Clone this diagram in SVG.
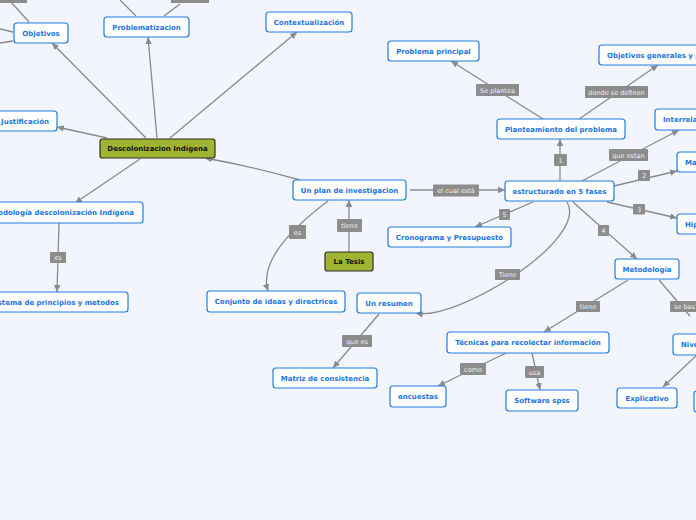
<svg xmlns="http://www.w3.org/2000/svg" width="696" height="520" viewBox="0 0 696 520">
<style>
.n rect{fill:#ffffff;stroke:#1f7ce0;stroke-width:1.2}
.n text{font-family:"DejaVu Sans",Verdana,sans-serif;font-size:7px;font-weight:bold;fill:#1a73de;text-anchor:middle}
.g rect{fill:#a1b431;stroke:#2d2d2d;stroke-width:1.2}
.g text{font-family:"DejaVu Sans",Verdana,sans-serif;font-size:7px;font-weight:bold;fill:#111;text-anchor:middle}
.e{fill:none;stroke:#8a8a8a;stroke-width:1.3}
.a{marker-end:url(#ah)}
.l rect{fill:#8c8c8c}
.l text{font-family:"DejaVu Sans",Verdana,sans-serif;font-size:6.5px;fill:#f0f0f0;text-anchor:middle}
</style>
<defs>
<marker id="ah" markerWidth="8" markerHeight="8" refX="7" refY="4" orient="auto" markerUnits="userSpaceOnUse">
<path d="M0,0.8 L7,4 L0,7.2 Z" fill="#8a8a8a"/>
</marker>
</defs>
<rect x="0" y="0" width="696" height="520" fill="#f2f5fd"/>

<g id="connectors">
<path class="e" d="M29,22 L10,1"/>
<path class="e" d="M13,32 L0,29"/>
<path class="e" d="M13,41 L0,43"/>
<path class="e" d="M136,16 L120,0"/>
<path class="e" d="M164,16 L180,4"/>
<path class="e a" d="M146,138 L52,43"/>
<path class="e a" d="M157,138 L148,37"/>
<path class="e a" d="M170,138 L297,32"/>
<path class="e a" d="M107,138 L57,127"/>
<path class="e a" d="M140,159 L75,203"/>
<path class="e a" d="M300,180 Q250,166 205,158"/>
<path class="e a" d="M59,223 L57,292"/>
<path class="e a" d="M349,252 L349,200"/>
<path class="e a" d="M328,201 C300,222 258,258 268,291"/>
<path class="e a" d="M410,190 L505,190"/>
<path class="e a" d="M560,181 L560,139"/>
<path class="e a" d="M543,119 L451,61"/>
<path class="e a" d="M579,119 L658,65"/>
<path class="e a" d="M582,181 L679,130"/>
<path class="e a" d="M614,186 L677,171"/>
<path class="e a" d="M607,202 L677,218"/>
<path class="e a" d="M573,202 L637,259"/>
<path class="e a" d="M533,202 L475,227"/>
<path class="e a" d="M567,202 C590,240 455,322 416,313"/>
<path class="e a" d="M379,314 L333,368"/>
<path class="e a" d="M628,280 L544,332"/>
<path class="e" d="M659,280 L690,316"/>
<path class="e a" d="M700,352 L663,387"/>
<path class="e a" d="M506,353 L438,386"/>
<path class="e a" d="M532,353 L540,390"/>
</g>

<g id="edge-labels">
<g class="l"><rect x="-10" y="-10" width="37" height="13"/></g>
<g class="l"><rect x="171" y="-10" width="38" height="13"/></g>
<g class="l"><rect x="50" y="252" width="16" height="11" rx="1"/><text x="58" y="260">es</text></g>
<g class="l"><rect x="337" y="219" width="25" height="13" rx="1"/><text x="349.5" y="228">tiene</text></g>
<g class="l"><rect x="289" y="225" width="17" height="14" rx="1"/><text x="297.5" y="234.5">es</text></g>
<g class="l"><rect x="433" y="184.5" width="46" height="12" rx="1"/><text x="456" y="193">el cual está</text></g>
<g class="l"><rect x="554" y="154" width="13" height="12" rx="1"/><text x="560.5" y="162.5">1</text></g>
<g class="l"><rect x="476" y="84" width="43" height="12" rx="1"/><text x="497.5" y="92.5">Se plantea</text></g>
<g class="l"><rect x="585" y="86" width="63" height="12" rx="1"/><text x="616.5" y="94.5">donde se definen</text></g>
<g class="l"><rect x="609" y="149" width="39" height="12" rx="1"/><text x="628.5" y="157.5">que estan</text></g>
<g class="l"><rect x="638" y="170" width="12" height="11" rx="1"/><text x="644" y="178">2</text></g>
<g class="l"><rect x="633" y="204" width="12" height="10.5" rx="1"/><text x="639" y="211.5">3</text></g>
<g class="l"><rect x="598" y="225" width="11" height="11" rx="1"/><text x="603.5" y="233">4</text></g>
<g class="l"><rect x="499" y="209" width="11" height="11" rx="1"/><text x="504.5" y="217">5</text></g>
<g class="l"><rect x="495" y="269" width="25" height="11" rx="1"/><text x="507.5" y="277">Tiene</text></g>
<g class="l"><rect x="342" y="335" width="30" height="12" rx="1"/><text x="357" y="343.5">que es</text></g>
<g class="l"><rect x="576" y="301" width="24" height="11" rx="1"/><text x="588" y="309">tiene</text></g>
<g class="l"><rect x="670" y="301" width="40" height="11" rx="1"/><text x="674" y="309" style="text-anchor:start">se bas</text></g>
<g class="l"><rect x="460" y="363" width="26" height="12" rx="1"/><text x="473" y="371.5">como</text></g>
<g class="l"><rect x="525" y="366" width="19" height="12" rx="1"/><text x="534.5" y="374.5">usa</text></g>
</g>

<g id="n-objetivos" class="n"><rect x="14" y="23" width="54" height="20" rx="3"/><text x="41" y="35.5">Objetivos</text></g>
<g id="n-problematizacion" class="n"><rect x="104" y="17" width="85" height="20" rx="3"/><text x="146.5" y="29.5">Problematizacion</text></g>
<g id="n-contextualizacion" class="n"><rect x="266" y="12" width="86" height="20" rx="3"/><text x="309" y="24.5">Contextualización</text></g>
<g id="n-problema-principal" class="n"><rect x="388" y="41" width="91" height="20" rx="3"/><text x="433.5" y="53.5">Problema principal</text></g>
<g id="n-objetivos-generales" class="n"><rect x="599" y="45" width="120" height="20" rx="3"/><text x="607" y="57.5" style="text-anchor:start">Objetivos generales y p</text></g>
<g id="n-planteamiento" class="n"><rect x="497" y="119" width="128" height="20" rx="3"/><text x="561" y="131.5">Planteamiento del problema</text></g>
<g id="n-interrela" class="n"><rect x="655" y="109" width="60" height="21" rx="3"/><text x="663" y="122" style="text-anchor:start">Interrela</text></g>
<g id="n-ma" class="n"><rect x="677" y="152" width="40" height="20" rx="3"/><text x="685" y="164.5" style="text-anchor:start">Ma</text></g>
<g id="n-hip" class="n"><rect x="677" y="214" width="40" height="20" rx="3"/><text x="685" y="226.5" style="text-anchor:start">Hip</text></g>
<g id="n-estructurado" class="n"><rect x="505" y="181" width="109" height="20" rx="3"/><text x="559.5" y="193.5">estructurado en 5 fases</text></g>
<g id="n-plan" class="n"><rect x="293" y="180" width="113" height="20" rx="3"/><text x="349.5" y="192.5">Un plan de investigacion</text></g>
<g id="n-descolonizacion" class="g"><rect x="100" y="139" width="115" height="19" rx="2.5"/><text x="157.5" y="151">Descolonizacion Indígena</text></g>
<g id="n-justificacion" class="n"><rect x="-10" y="111" width="67" height="20" rx="3"/><text x="49" y="123.5" style="text-anchor:end">Justificación</text></g>
<g id="n-metodologia-desc" class="n"><rect x="-20" y="202" width="163" height="21" rx="3"/><text x="134" y="215" style="text-anchor:end">Metodología descolonización Indígena</text></g>
<g id="n-sistema" class="n"><rect x="-20" y="292" width="148" height="20" rx="3"/><text x="119" y="304.5" style="text-anchor:end">Sistema de principios y metodos</text></g>
<g id="n-conjunto" class="n"><rect x="207" y="291" width="138" height="21" rx="3"/><text x="276" y="304">Conjunto de ideas y directrices</text></g>
<g id="n-tesis" class="g"><rect x="325" y="252" width="48" height="19" rx="2.5"/><text x="349" y="264">La Tesis</text></g>
<g id="n-cronograma" class="n"><rect x="388" y="227" width="123" height="20" rx="3"/><text x="449.5" y="239.5">Cronograma y Presupuesto</text></g>
<g id="n-resumen" class="n"><rect x="357" y="293" width="64" height="20" rx="3"/><text x="389" y="305.5">Un resumen</text></g>
<g id="n-metodologia" class="n"><rect x="615" y="259" width="64" height="20" rx="3"/><text x="647" y="271.5">Metodología</text></g>
<g id="n-matriz" class="n"><rect x="273" y="368" width="104" height="20" rx="3"/><text x="325" y="380.5">Matriz de consistencia</text></g>
<g id="n-tecnicas" class="n"><rect x="447" y="332" width="162" height="21" rx="3"/><text x="528" y="345">Técnicas para recolectar información</text></g>
<g id="n-encuestas" class="n"><rect x="390" y="386" width="56" height="21" rx="3"/><text x="418" y="399">encuestas</text></g>
<g id="n-software" class="n"><rect x="506" y="390" width="72" height="21" rx="3"/><text x="542" y="403">Software spss</text></g>
<g id="n-explicativo" class="n"><rect x="617" y="388" width="60" height="20" rx="3"/><text x="647" y="400.5">Explicativo</text></g>
<g id="n-nive" class="n"><rect x="673" y="334" width="40" height="21" rx="3"/><text x="681" y="347" style="text-anchor:start">Nive</text></g>
<g id="n-edge" class="n"><rect x="694" y="391" width="20" height="21" rx="3"/></g>
</svg>
